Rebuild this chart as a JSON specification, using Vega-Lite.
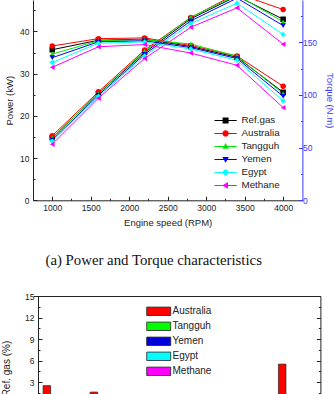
{
  "$schema": "https://vega.github.io/schema/vega-lite/v6.json",
  "padding": {"left": 1, "top": 0, "right": 0, "bottom": 0},
  "background": "white",
  "columns": 1,
  "align": "none",
  "spacing": 23,
  "resolve": {"scale": {"color": "independent", "shape": "independent"}, "legend": {"color": "independent", "shape": "independent"}},
  "config": {
    "font": "Liberation Sans",
    "view": {"stroke": null},
    "axis": {"grid": false, "labelFontSize": 8.5, "titleFontSize": 9.5, "titleFontWeight": "normal", "labelColor": "#222", "titleColor": "#222", "domainColor": "#222", "tickColor": "#222", "labelOverlap": false, "labelFlush": false}
  },
  "datasets": {
    "perf": [
      {"rpm": 1000, "series": "Ref.gas", "power": 14.8, "torque": 143.0},
      {"rpm": 1600, "series": "Ref.gas", "power": 25.3, "torque": 152.0},
      {"rpm": 2200, "series": "Ref.gas", "power": 35.0, "torque": 153.0},
      {"rpm": 2800, "series": "Ref.gas", "power": 43.0, "torque": 146.0},
      {"rpm": 3400, "series": "Ref.gas", "power": 48.4, "torque": 135.8},
      {"rpm": 4000, "series": "Ref.gas", "power": 42.9, "torque": 102.6},
      {"rpm": 1000, "series": "Australia", "power": 15.3, "torque": 146.5},
      {"rpm": 1600, "series": "Australia", "power": 25.7, "torque": 153.5},
      {"rpm": 2200, "series": "Australia", "power": 35.6, "torque": 154.2},
      {"rpm": 2800, "series": "Australia", "power": 43.3, "torque": 147.0},
      {"rpm": 3400, "series": "Australia", "power": 49.0, "torque": 137.0},
      {"rpm": 4000, "series": "Australia", "power": 45.2, "torque": 108.3},
      {"rpm": 1000, "series": "Tangguh", "power": 14.8, "torque": 138.8},
      {"rpm": 1600, "series": "Tangguh", "power": 25.3, "torque": 151.5},
      {"rpm": 2200, "series": "Tangguh", "power": 35.3, "torque": 152.5},
      {"rpm": 2800, "series": "Tangguh", "power": 43.4, "torque": 148.4},
      {"rpm": 3400, "series": "Tangguh", "power": 48.6, "torque": 136.8},
      {"rpm": 4000, "series": "Tangguh", "power": 42.3, "torque": 101.2},
      {"rpm": 1000, "series": "Yemen", "power": 14.3, "torque": 135.4},
      {"rpm": 1600, "series": "Yemen", "power": 24.9, "torque": 150.5},
      {"rpm": 2200, "series": "Yemen", "power": 34.6, "torque": 151.5},
      {"rpm": 2800, "series": "Yemen", "power": 42.5, "torque": 145.0},
      {"rpm": 3400, "series": "Yemen", "power": 47.9, "torque": 134.6},
      {"rpm": 4000, "series": "Yemen", "power": 41.4, "torque": 98.8},
      {"rpm": 1000, "series": "Egypt", "power": 14.0, "torque": 130.9},
      {"rpm": 1600, "series": "Egypt", "power": 24.6, "torque": 149.2},
      {"rpm": 2200, "series": "Egypt", "power": 34.2, "torque": 150.3},
      {"rpm": 2800, "series": "Egypt", "power": 41.9, "torque": 143.7},
      {"rpm": 3400, "series": "Egypt", "power": 46.7, "torque": 132.9},
      {"rpm": 4000, "series": "Egypt", "power": 39.3, "torque": 94.3},
      {"rpm": 1000, "series": "Methane", "power": 13.3, "torque": 126.3},
      {"rpm": 1600, "series": "Methane", "power": 24.2, "torque": 145.8},
      {"rpm": 2200, "series": "Methane", "power": 33.6, "torque": 147.9},
      {"rpm": 2800, "series": "Methane", "power": 41.0, "torque": 139.8},
      {"rpm": 3400, "series": "Methane", "power": 45.6, "torque": 128.2},
      {"rpm": 4000, "series": "Methane", "power": 37.0, "torque": 88.0}
    ],
    "diff": [
      {"rpm": 1000, "series": "Australia", "diff": 2.5},
      {"rpm": 1600, "series": "Australia", "diff": 1.6},
      {"rpm": 2200, "series": "Australia", "diff": 0.5},
      {"rpm": 2800, "series": "Australia", "diff": 0.7},
      {"rpm": 3400, "series": "Australia", "diff": 0.9},
      {"rpm": 4000, "series": "Australia", "diff": 5.5},
      {"rpm": 1000, "series": "Tangguh", "diff": -3.3},
      {"rpm": 1600, "series": "Tangguh", "diff": -0.3},
      {"rpm": 2200, "series": "Tangguh", "diff": -0.3},
      {"rpm": 2800, "series": "Tangguh", "diff": 1.0},
      {"rpm": 3400, "series": "Tangguh", "diff": 0.7},
      {"rpm": 4000, "series": "Tangguh", "diff": -1.4},
      {"rpm": 1000, "series": "Yemen", "diff": -5.3},
      {"rpm": 1600, "series": "Yemen", "diff": -1.0},
      {"rpm": 2200, "series": "Yemen", "diff": -1.0},
      {"rpm": 2800, "series": "Yemen", "diff": -0.7},
      {"rpm": 3400, "series": "Yemen", "diff": -0.9},
      {"rpm": 4000, "series": "Yemen", "diff": -3.7},
      {"rpm": 1000, "series": "Egypt", "diff": -8.6},
      {"rpm": 1600, "series": "Egypt", "diff": -1.8},
      {"rpm": 2200, "series": "Egypt", "diff": -1.7},
      {"rpm": 2800, "series": "Egypt", "diff": -1.6},
      {"rpm": 3400, "series": "Egypt", "diff": -2.1},
      {"rpm": 4000, "series": "Egypt", "diff": -8.1},
      {"rpm": 1000, "series": "Methane", "diff": -11.7},
      {"rpm": 1600, "series": "Methane", "diff": -4.1},
      {"rpm": 2200, "series": "Methane", "diff": -3.3},
      {"rpm": 2800, "series": "Methane", "diff": -4.2},
      {"rpm": 3400, "series": "Methane", "diff": -5.6},
      {"rpm": 4000, "series": "Methane", "diff": -14.2}
    ]
  },
  "concat": [
    {
      "width": 269.4,
      "height": 200.3,
      "data": {"name": "perf"},
      "title": {"text": "(a) Power and Torque characteristics", "orient": "bottom", "font": "Liberation Serif", "fontSize": 14.8, "fontWeight": "normal", "color": "#111", "dx": -14, "offset": 26},
      "encoding": {
        "x": {
          "field": "rpm", "type": "quantitative",
          "scale": {"domain": [750, 4250], "nice": false, "zero": false},
          "axis": {
            "title": "Engine speed (RPM)", "format": "d",
            "values": [1000, 1250, 1500, 1750, 2000, 2250, 2500, 2750, 3000, 3250, 3500, 3750, 4000],
            "labelExpr": "datum.value % 500 === 0 ? datum.label : ''",
            "tickSize": {"condition": {"test": "datum.value % 500 === 0", "value": -4}, "value": -2},
            "labelPadding": 7, "titlePadding": 4
          }
        },
        "color": {
          "field": "series", "type": "nominal",
          "scale": {"domain": ["Ref.gas", "Australia", "Tangguh", "Yemen", "Egypt", "Methane"], "range": ["#000000", "#ff0000", "#00e600", "#0000ff", "#00ffff", "#ff00ff"]},
          "legend": null
        }
      },
      "layer": [
        {
          "encoding": {
            "y": {
              "field": "power", "type": "quantitative",
              "scale": {"domain": [0, 47.46], "nice": false},
              "axis": {
                "orient": "left", "title": "Power (kW)",
                "values": [0, 5, 10, 15, 20, 25, 30, 35, 40, 45],
                "labelExpr": "datum.value % 10 === 0 ? datum.label : ''",
                "tickSize": {"condition": {"test": "datum.value % 10 === 0", "value": -4}, "value": -2},
                "labelPadding": 8, "titlePadding": 5
              }
            }
          },
          "layer": [
            {"mark": {"type": "line", "strokeWidth": 1, "clip": true}},
            {
              "mark": {"type": "point", "filled": true, "opacity": 1, "size": 30, "clip": true},
              "encoding": {
                "shape": {"field": "series", "type": "nominal", "scale": {"domain": ["Ref.gas", "Australia", "Tangguh", "Yemen", "Egypt", "Methane"], "range": ["square", "circle", "triangle-up", "triangle-down", "diamond", "triangle-left"]}, "legend": null}
              }
            }
          ]
        },
        {
          "encoding": {
            "y": {
              "field": "torque", "type": "quantitative",
              "scale": {"domain": [0, 190.2], "nice": false},
              "axis": {
                "orient": "right", "title": "Torque (N.m)", "titleAngle": 90,
                "values": [0, 25, 50, 75, 100, 125, 150, 175],
                "labelExpr": "datum.value % 50 === 0 ? datum.label : ''",
                "tickSize": {"condition": {"test": "datum.value % 50 === 0", "value": -4}, "value": -2},
                "labelPadding": 4, "titlePadding": 8,
                "domainColor": "#3a3aff", "tickColor": "#3a3aff", "labelColor": "#3a3aff", "titleColor": "#3a3aff"
              }
            }
          },
          "layer": [
            {"mark": {"type": "line", "strokeWidth": 1, "clip": true}},
            {
              "mark": {"type": "point", "filled": true, "opacity": 1, "size": 30, "clip": true},
              "encoding": {
                "shape": {"field": "series", "type": "nominal", "scale": {"domain": ["Ref.gas", "Australia", "Tangguh", "Yemen", "Egypt", "Methane"], "range": ["square", "circle", "triangle-up", "triangle-down", "diamond", "triangle-left"]}, "legend": null}
              }
            }
          ]
        },
        {
          "mark": {"type": "point", "filled": true, "opacity": 0, "size": 36},
          "encoding": {
            "y": {"field": "power", "type": "quantitative", "axis": null},
            "color": {
              "field": "series", "type": "nominal",
              "scale": {"domain": ["Ref.gas", "Australia", "Tangguh", "Yemen", "Egypt", "Methane"], "range": ["#000000", "#ff0000", "#00e600", "#0000ff", "#00ffff", "#ff00ff"]},
              "legend": {"orient": "none", "legendX": 187.7, "legendY": 115.5, "title": null, "padding": 0, "symbolSize": 36, "symbolOpacity": 1, "symbolStrokeWidth": 0, "labelFontSize": 9.8, "labelColor": "#222", "labelOffset": 11, "rowPadding": 2.0}
            },
            "shape": {
              "field": "series", "type": "nominal",
              "scale": {
                "domain": ["Ref.gas", "Australia", "Tangguh", "Yemen", "Egypt", "Methane"],
                "range": [
                  "M-3.7,-0.17H3.7V0.17H-3.7ZM-1,-1H1V1H-1Z",
                  "M-3.7,-0.17H3.7V0.17H-3.7ZM-1.05,0A1.05,1.05 0 1,1 1.05,0A1.05,1.05 0 1,1 -1.05,0Z",
                  "M-3.7,-0.17H3.7V0.17H-3.7ZM0,-1.15L1.1,0.8H-1.1Z",
                  "M-3.7,-0.17H3.7V0.17H-3.7ZM0,1.15L-1.1,-0.8H1.1Z",
                  "M-3.7,-0.17H3.7V0.17H-3.7ZM0,-1.2L1.2,0L0,1.2L-1.2,0Z",
                  "M-3.7,-0.17H3.7V0.17H-3.7ZM-1.15,0L0.8,-1.1V1.1Z"
                ]
              },
              "legend": {"orient": "none", "legendX": 187.7, "legendY": 115.5, "title": null, "padding": 0, "symbolSize": 36, "symbolOpacity": 1, "symbolStrokeWidth": 0, "labelFontSize": 9.8, "labelColor": "#222", "labelOffset": 11, "rowPadding": 2.0}
            }
          }
        }
      ],
      "resolve": {"scale": {"y": "independent", "color": "independent", "shape": "independent"}}
    },
    {
      "width": 287.4,
      "height": 215.1,
      "data": {"name": "diff"},
      "encoding": {
        "xOffset": {
          "field": "series", "type": "nominal",
          "scale": {"domain": ["Australia", "Tangguh", "Yemen", "Egypt", "Methane"], "paddingInner": 0, "paddingOuter": 0}
        }
      },
      "layer": [
        {
          "mark": {"type": "bar", "stroke": "#222", "strokeWidth": 0.7},
          "encoding": {
            "x": {
              "field": "rpm", "type": "ordinal",
              "scale": {"paddingInner": 0.2, "paddingOuter": 0.153, "align": 0.7},
              "axis": {"title": "Engine speed (RPM)", "labelAngle": 0, "ticks": false, "domain": false}
            },
            "y": {
              "field": "diff", "type": "quantitative",
              "scale": {"domain": [-15, 15], "nice": false},
              "axis": {
                "title": "Difference from Ref. gas (%)", "titleFontSize": 10, "offset": -5,
                "values": [-15, -13.5, -12, -10.5, -9, -7.5, -6, -4.5, -3, -1.5, 0, 1.5, 3, 4.5, 6, 7.5, 9, 10.5, 12, 13.5, 15],
                "labelExpr": "datum.value % 3 === 0 ? datum.label : ''",
                "tickSize": {"condition": {"test": "datum.value % 3 === 0", "value": -4}, "value": -2},
                "labelPadding": 8, "titlePadding": 8
              }
            },
            "color": {
              "field": "series", "type": "nominal",
              "scale": {"domain": ["Australia", "Tangguh", "Yemen", "Egypt", "Methane"], "range": ["#ff0000", "#00ff00", "#0000dd", "#00ffff", "#ff00ff"]},
              "legend": {
                "orient": "none", "legendX": 120.7, "legendY": 10.3, "title": null, "padding": 0,
                "symbolType": "M-3,-1.05H3V1.05H-3Z", "symbolSize": 64, "symbolStrokeColor": "#222", "symbolStrokeWidth": 0.8,
                "labelFontSize": 10, "labelColor": "#222", "labelOffset": 8.8, "rowPadding": 3
              }
            }
          }
        },
        {
          "mark": {"type": "bar", "opacity": 0},
          "encoding": {
            "x": {
              "field": "rpm", "type": "ordinal",
              "axis": {"orient": "top", "title": null, "labels": false, "ticks": false}
            },
            "y": {
              "field": "diff", "type": "quantitative",
              "axis": {
                "orient": "right", "title": null, "labels": false,
                "values": [-15, -13.5, -12, -10.5, -9, -7.5, -6, -4.5, -3, -1.5, 0, 1.5, 3, 4.5, 6, 7.5, 9, 10.5, 12, 13.5, 15],
                "tickSize": {"condition": {"test": "datum.value % 3 === 0", "value": -4}, "value": -2}
              }
            }
          }
        }
      ],
      "resolve": {"axis": {"x": "independent", "y": "independent"}}
    }
  ]
}
